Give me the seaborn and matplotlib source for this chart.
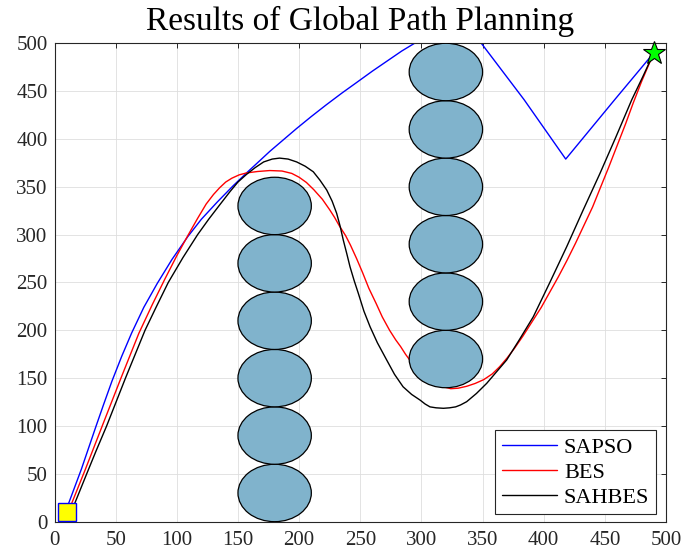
import matplotlib
matplotlib.use("Agg")
import matplotlib.pyplot as plt
from matplotlib.patches import Circle
import pandas as pd
import seaborn as sns

# Planned paths (x, y waypoints) from start (10, 10) to goal (490, 490)
sapso_x = [10, 11.5, 22, 34, 40, 47, 55, 63, 73, 84, 96, 109, 120, 133, 146, 157,
           168, 176, 187, 198, 210, 222, 235, 247, 260, 272, 284, 295, 305, 315,
           325, 333, 340, 349, 384, 418, 458, 490]
sapso_y = [10, 19, 55, 100, 122, 147, 173, 197, 224, 249, 274, 298, 316, 334, 351, 364.5,
           377.5, 387, 399, 411, 423.5, 435.5, 448, 459, 471, 481.5, 492, 500.5, 508, 513,
           516, 517, 513, 500, 441, 379, 441, 490]

bes_x = [10, 14, 25, 39, 54, 69, 80, 90, 100, 109, 117, 124, 130, 135, 140, 145, 151,
         157, 166, 176, 186, 194, 200, 206, 212, 219, 225, 229, 233, 238, 242, 247,
         252, 257, 263, 268, 274, 279, 283, 287, 291, 296, 301, 306, 312, 318, 324,
         330, 337, 344, 351, 358, 364, 370, 376, 383, 391, 398, 405, 412, 419, 426,
         433, 440, 446, 453, 460, 467, 473, 480, 485, 490]
bes_y = [10, 19, 54, 100, 149, 197, 227, 253, 278, 299, 317, 332, 342, 349, 355, 359,
         362.5, 364.5, 366, 367, 366.5, 364, 360, 354.5, 347, 337, 326, 318, 309, 299,
         289, 275, 260, 244, 228, 214, 200, 190, 183, 175, 168, 161, 155, 150, 145, 141,
         139, 139.5, 141.5, 144.5, 148.5, 154.5, 162, 171, 181, 194, 210, 224, 240, 256,
         273, 291, 310, 329, 348, 370, 393, 416, 437, 460, 475, 490]

sahbes_x = [10, 16.5, 26, 34, 42.6, 50, 58, 66, 74, 83, 93, 105, 117, 126, 135, 143.5,
            150, 157, 164, 171, 178, 184, 191, 198, 205, 211.6, 217, 222.6, 227, 230.7,
            233.5, 236.1, 239, 241.6, 245, 248.4, 253, 258, 264, 271.6, 278, 285, 292,
            299, 303, 307, 312, 318, 323, 328, 332, 337, 345, 353.4, 361, 369.7, 380,
            391.5, 405, 418.8, 432, 446, 459, 472, 481, 490]
sahbes_y = [10, 19, 49, 74, 100, 124, 150, 175, 200, 224, 250, 276, 300, 316, 331, 345,
            355, 363, 370, 376, 379, 380, 379, 376, 371.5, 365.7, 357, 346.6, 335, 322.3,
            309, 294.4, 280, 266.5, 252, 238.7, 220, 203.8, 187, 169, 154, 141, 133,
            127, 123, 120, 119, 118.5, 119, 120, 122, 125.4, 134, 144.6, 156, 169, 190,
            214.2, 250, 287.4, 325, 364, 402, 441, 465, 490]

# Circular obstacles (centres, common radius)
obs_x = [180, 180, 180, 180, 180, 180, 320, 320, 320, 320, 320, 320]
obs_y = [30, 90, 150, 210, 270, 330, 170, 230, 290, 350, 410, 470]
obs_r = 30

start_pt = (10, 10)
goal_pt = (490, 490)
ticks = list(range(0, 501, 50))

sns.set_theme(style="white")
plt.rcParams["font.family"] = ["Liberation Serif", "DejaVu Serif"]

fig = plt.figure(figsize=(6.84, 5.58), dpi=100)
ax = fig.add_axes([0.0797, 0.0651, 0.894, 0.8573])

paths = [("SAPSO", sapso_x, sapso_y, "blue"),
         ("BES", bes_x, bes_y, "red"),
         ("SAHBES", sahbes_x, sahbes_y, "black")]
for name, xs, ys, col in paths:
    df = pd.DataFrame({"x": xs, "y": ys})
    sns.lineplot(data=df, x="x", y="y", sort=False, estimator=None,
                 color=col, lw=1.0, label=name, ax=ax, zorder=2)

for cx, cy in zip(obs_x, obs_y):
    ax.add_patch(Circle((cx, cy), obs_r, facecolor=(0.5, 0.7, 0.8),
                        edgecolor="black", lw=0.9, zorder=3))

ax.plot(*start_pt, marker="s", ms=12.5, mfc="yellow", mec="blue", mew=1.0,
        zorder=5, clip_on=False)
ax.plot(*goal_pt, marker="*", ms=17, mfc="#00ff00", mec="black", mew=0.8,
        zorder=5, clip_on=False)

ax.set_xlim(0, 500)
ax.set_ylim(0, 500)
ax.set_xticks(ticks)
ax.set_yticks(ticks)
ax.set_xlabel("")
ax.set_ylabel("")
ax.grid(True, color="#dedede", lw=0.6)
ax.set_axisbelow(True)
for sp in ax.spines.values():
    sp.set_color("#262626")
    sp.set_linewidth(0.8)
ax.tick_params(direction="in", top=True, right=True, length=3.8, width=0.7,
               colors="#262626", labelsize=15)
ax.tick_params(axis="x", pad=7)
ax.tick_params(axis="y", pad=5)
ax.set_title("Results of Global Path Planning", fontsize=24, color="black", pad=9.5)

leg = ax.legend(loc="lower right", bbox_to_anchor=(0.9836, 0.0155),
                borderaxespad=0, fontsize=16, frameon=True, fancybox=False,
                framealpha=1, edgecolor="#262626", handlelength=2.5,
                handletextpad=0.3, labelspacing=0.2, borderpad=0.3)
leg.get_frame().set_linewidth(0.8)
for t in leg.get_texts():
    t.set_color("black")

fig.savefig("out.png", dpi=100)
